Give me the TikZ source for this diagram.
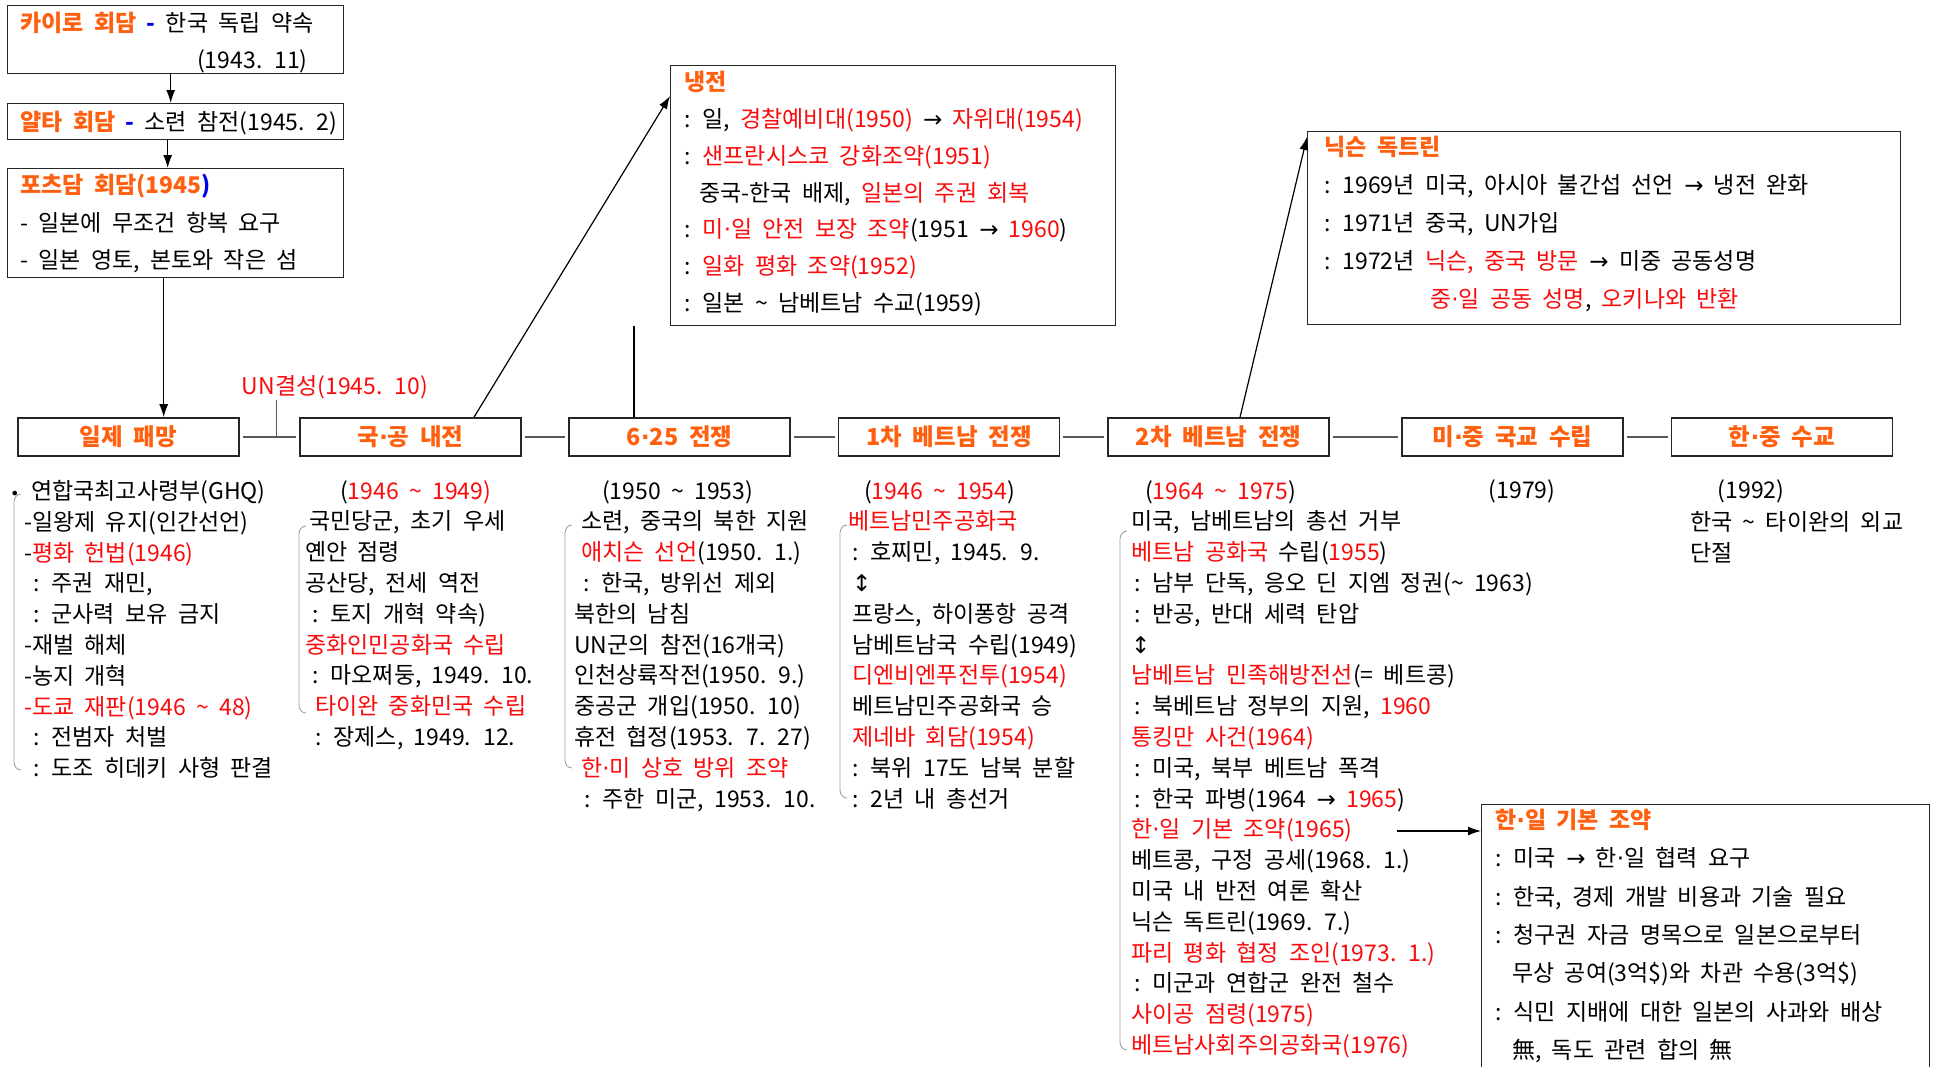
\documentclass[tikz,border=0pt]{standalone}
\usepackage{fontspec}
\setmainfont{Noto Sans CJK KR}[WordSpace=2]
\newfontfamily\arrowfont{DejaVu Sans}
\usetikzlibrary{arrows.meta,calc,positioning}

\definecolor{titleorange}{RGB}{255,96,16}
\definecolor{keyred}{RGB}{250,10,10}
\definecolor{dashblue}{RGB}{0,0,230}

\newcommand{\rt}[1]{\textcolor{keyred}{#1}}
\newcommand{\hd}[1]{\textcolor{titleorange}{\bfseries #1}}
\newcommand{\bd}[1]{\textcolor{dashblue}{\bfseries #1}}
\newcommand{\ra}{{\arrowfont →}}
\newcommand{\ud}{{\arrowfont ↕}}
\newcommand{\md}{{\arrowfont ·}}
\newcommand{\tl}{\textasciitilde{}}
\newcommand{\ind}[1]{\hspace*{#1pt}}

\begin{document}
\begin{tikzpicture}[x=1pt, y=-1pt,
    event/.style={draw=black!85, line width=1.6pt, minimum width=221pt, minimum height=38pt,
        inner sep=0pt, text=titleorange, font=\bfseries\fontsize{23.5}{28}\selectfont},
    notebox/.style={draw=black!85, line width=1.4pt, inner sep=0pt, anchor=north west},
    notes/.style={anchor=north west, align=left, inner sep=0pt, font=\fontsize{23}{30.8}\selectfont},
    boxnotes/.style={notes, font=\fontsize{23}{37.5}\selectfont},
    link/.style={draw=black!65, line width=2pt, shorten >=3pt, shorten <=3pt},
    arr/.style={-{Latex[length=13pt,width=9pt]}, line width=1.2pt},
    brace/.style={draw=black!40, line width=0.8pt}]
    \useasboundingbox (0,0) rectangle (1945,1066);

    % Conferences, top left
    \node[notebox, minimum width=336pt, minimum height=68pt] (cairo) at (7,5) {};
    \node[boxnotes, font=\fontsize{23}{37}\selectfont] (cairotext) at (20,12)
        {\hd{카이로 회담} \bd{-} 한국 독립 약속\\ \ind{177}(1943. 11)};
    \node[notebox, minimum width=336pt, minimum height=36pt] (yalta) at (7,103) {};
    \node[boxnotes] (yaltatext) at (20,111) {\hd{얄타 회담} \bd{-} 소련 참전(1945. 2)};
    \node[notebox, minimum width=336pt, minimum height=109pt] (potsdam) at (7,168) {};
    \node[boxnotes] (potsdamtext) at (20,174)
        {\hd{포츠담 회담(1945}\bd{)}\\ - 일본에 무조건 항복 요구\\ - 일본 영토, 본토와 작은 섬};

    \draw[arr] ([xshift=-5pt]cairo.south) -- ([xshift=-5pt]cairo.south |- yalta.north);
    \draw[arr] ([xshift=-8pt]yalta.south) -- ([xshift=-8pt]yalta.south |- potsdam.north);

    % Timeline
    \node[event] (defeat) at (128.5,437) {일제 패망};
    \node[event] (civilwar) at (410.5,437) {국\md 공 내전};
    \node[event] (koreanwar) at (679.5,437) {6\md 25 전쟁};
    \node[event] (vietone) at (949,437) {1차 베트남 전쟁};
    \node[event] (viettwo) at (1218.5,437) {2차 베트남 전쟁};
    \node[event] (uschina) at (1512.5,437) {미\md 중 국교 수립};
    \node[event] (korchina) at (1782,437) {한\md 중 수교};

    \foreach \a/\b in {defeat/civilwar, civilwar/koreanwar, koreanwar/vietone,
        vietone/viettwo, viettwo/uschina, uschina/korchina}
        \draw[link] (\a) -- (\b);

    \draw[arr] ([xshift=-12pt]potsdam.south) -- ([xshift=-12pt]potsdam.south |- defeat.north);

    % UN label
    \node[text=keyred, inner sep=1pt, font=\fontsize{23}{28}\selectfont] (unfound) at (335,387) {UN결성(1945. 10)};
    \coordinate (unfoot) at ($(defeat.east)!0.62!(civilwar.west)$);
    \draw[draw=black!65, line width=1.3pt] (unfoot) -- (unfoot |- unfound.south);

    % Cold war box
    \node[notebox, minimum width=445pt, minimum height=260pt] (coldwar) at (670,65) {};
    \node[boxnotes, font=\fontsize{23}{36.8}\selectfont] (coldtext) at (684,71)
        {\hd{냉전}\\
         : 일, \rt{경찰예비대(1950)} \ra{} \rt{자위대(1954)}\\
         : \rt{샌프란시스코 강화조약(1951)}\\
         \ind{15}중국-한국 배제, \rt{일본의 주권 회복}\\
         : \rt{미\md 일 안전 보장 조약}(1951 \ra{} \rt{1960})\\
         : \rt{일화 평화 조약(1952)}\\
         : 일본 \tl{} 남베트남 수교(1959)};

    % Nixon doctrine box
    \node[notebox, minimum width=593pt, minimum height=193pt] (nixon) at (1307,131) {};
    \node[boxnotes, font=\fontsize{23}{38}\selectfont] (nixontext) at (1324,136)
        {\hd{닉슨 독트린}\\
         : 1969년 미국, 아시아 불간섭 선언 \ra{} 냉전 완화\\
         : 1971년 중국, UN가입\\
         : 1972년 \rt{닉슨, 중국 방문} \ra{} 미중 공동성명\\
         \ind{106}\rt{중\md 일 공동 성명}, \rt{오키나와 반환}};

    % Korea-Japan treaty box
    \node[notebox, minimum width=448pt, minimum height=290pt] (kjbox) at (1481,804) {};
    \node[boxnotes, font=\fontsize{23}{38.3}\selectfont] (kjtext) at (1495,809)
        {\hd{한\md 일 기본 조약}\\
         : 미국 \ra{} 한\md 일 협력 요구\\
         : 한국, 경제 개발 비용과 기술 필요\\
         : 청구권 자금 명목으로 일본으로부터\\
         \ind{17}무상 공여(3억\$)와 차관 수용(3억\$)\\
         : 식민 지배에 대한 일본의 사과와 배상\\
         \ind{17}無, 독도 관련 합의 無};

    % Links to the boxes
    \draw[arr] ([xshift=63.5pt]civilwar.north) -- ([yshift=-31pt]coldwar.north west);
    \draw[line width=1.2pt] ([xshift=-45.5pt]koreanwar.north) -- ([xshift=-45.5pt]koreanwar.north |- coldwar.south);
    \draw[arr] ([xshift=21.5pt]viettwo.north) -- ([yshift=-6pt]nixon.north west);
    \coordinate (kjstart) at (1397,831);
    \draw[arr] (kjstart) -- (kjstart -| kjbox.west);

    % Notes under the timeline
    \node[notes] (ghqnotes) at (24,480)
        {\ind{-14}\makebox[21pt][l]{\arrowfont\fontsize{16}{16}\selectfont •}연합국최고사령부(GHQ)\\
         -일왕제 유지(인간선언)\\
         -\rt{평화 헌법(1946)}\\
         \ind{9}: 주권 재민,\\
         \ind{9}: 군사력 보유 금지\\
         -재벌 해체\\
         -농지 개혁\\
         \rt{-도쿄 재판(1946 \tl{} 48)}\\
         \ind{9}: 전범자 처벌\\
         \ind{9}: 도조 히데키 사형 판결};

    \node[notes] (civilnotes) at (305,480)
        {\ind{35}(\rt{1946 \tl{} 1949)}\\
         \ind{4}국민당군, 초기 우세\\
         옌안 점령\\
         공산당, 전세 역전\\
         \ind{7}: 토지 개혁 약속)\\
         \rt{중화인민공화국 수립}\\
         \ind{7}: 마오쩌둥, 1949. 10.\\
         \ind{10}\rt{타이완 중화민국 수립}\\
         \ind{10}: 장제스, 1949. 12.};

    \node[notes] (koreanotes) at (574,480)
        {\ind{28}(1950 \tl{} 1953)\\
         \ind{7}소련, 중국의 북한 지원\\
         \ind{7}\rt{애치슨 선언}(1950. 1.)\\
         \ind{9}: 한국, 방위선 제외\\
         북한의 남침\\
         UN군의 참전(16개국)\\
         인천상륙작전(1950. 9.)\\
         중공군 개입(1950. 10)\\
         휴전 협정(1953. 7. 27)\\
         \ind{7}\rt{한\md 미 상호 방위 조약}\\
         \ind{10}: 주한 미군, 1953. 10.};

    \node[notes] (vietonenotes) at (848,480)
        {\ind{16}(\rt{1946 \tl{} 1954})\\
         \rt{베트남민주공화국}\\
         \ind{4}: 호찌민, 1945. 9.\\
         \ind{4}\ud\\
         \ind{4}프랑스, 하이퐁항 공격\\
         \ind{4}남베트남국 수립(1949)\\
         \ind{4}\rt{디엔비엔푸전투(1954)}\\
         \ind{4}베트남민주공화국 승\\
         \ind{4}\rt{제네바 회담(1954)}\\
         \ind{4}: 북위 17도 남북 분할\\
         \ind{4}: 2년 내 총선거};

    \node[notes] (viettwonotes) at (1131,480)
        {\ind{14}(\rt{1964 \tl{} 1975})\\
         미국, 남베트남의 총선 거부\\
         \rt{베트남 공화국} 수립(\rt{1955})\\
         \ind{3}: 남부 단독, 응오 딘 지엠 정권(\tl{} 1963)\\
         \ind{3}: 반공, 반대 세력 탄압\\
         \ud\\
         \rt{남베트남 민족해방전선}(= 베트콩)\\
         \ind{3}: 북베트남 정부의 지원, \rt{1960}\\
         \rt{통킹만 사건(1964)}\\
         \ind{3}: 미국, 북부 베트남 폭격\\
         \ind{3}: 한국 파병(1964 \ra{} \rt{1965})\\
         \rt{한\md 일 기본 조약(1965)}\\
         베트콩, 구정 공세(1968. 1.)\\
         미국 내 반전 여론 확산\\
         닉슨 독트린(1969. 7.)\\
         \rt{파리 평화 협정 조인(1973. 1.)}\\
         \ind{3}: 미군과 연합군 완전 철수\\
         \rt{사이공 점령(1975)}\\
         \rt{베트남사회주의공화국(1976)}};

    \node[font=\fontsize{23}{28}\selectfont] (uschinayear) at (1522,491) {(1979)};
    \node[font=\fontsize{23}{28}\selectfont] (korchinayear) at (1751,491) {(1992)};
    \node[notes] (korchinanotes) at (1690,511) {한국 \tl{} 타이완의 외교\\ 단절};

    % Brackets
    \foreach \x/\t/\b in {14/494/770, 299/526/713, 565/525/768, 840/525/798, 1120/531/1050}
        \draw[brace] (\x+7,\t) to[out=180,in=90] (\x,\t+8) -- (\x,\b-8) to[out=-90,in=180] (\x+7,\b);

\end{tikzpicture}
\end{document}
